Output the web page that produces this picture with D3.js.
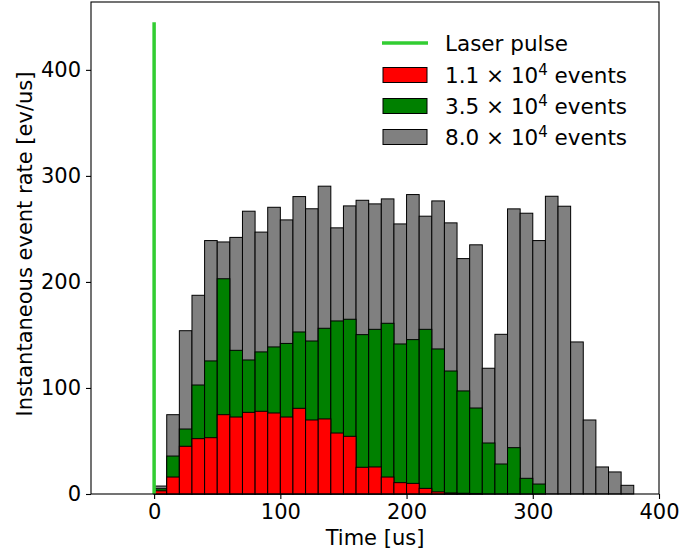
<!DOCTYPE html>
<html>
<head>
<meta charset="utf-8">
<script src="https://cdn.jsdelivr.net/npm/d3@7"></script>
<style>
  html, body { margin: 0; padding: 0; background: #fff; }
  svg { display: block; font-family: "DejaVu Sans", sans-serif; }
</style>
</head>
<body>
<svg id="chart" width="680" height="554"></svg>
<script>
// Histogram bins: left edges in microseconds, 10 us wide
const binWidth = 10;
const binStarts = d3.range(0, 380, binWidth);

// Instantaneous event rate per bin [ev/us] for each dataset
const rate80k = [7.5, 74.8, 154, 187.4, 239, 237.7, 242, 266.7, 247, 270.4,
  258.5, 280.5, 269, 290.3, 251, 271.7, 277, 273.6, 278.3, 254.7,
  282.4, 262, 276.4, 255.7, 222, 235, 118.6, 150.6, 268.9, 264.8,
  239, 280.8, 271.4, 143.4, 69.8, 25.5, 20.8, 8.2];
const rate35k = [5, 35.8, 61.3, 102.8, 125.5, 203, 135.5, 126.4, 134, 138.7,
  142, 152.8, 144.3, 156.3, 163.2, 164.8, 150.3, 155.3, 161, 141.5,
  145.6, 155.3, 136.8, 116, 97.2, 81.1, 48.1, 28.3, 43.7, 14.8,
  9.4, 0, 0, 0, 0, 0, 0, 0];
const rate11k = [3, 16, 45, 52.2, 53.1, 74.8, 72.6, 77, 78, 76.4,
  72.6, 80.8, 69.8, 70.8, 57.5, 54.4, 25.2, 25.5, 16, 10.7,
  10, 5.3, 2, 1, 0.7, 0.5, 0, 0, 0, 0,
  0, 0, 0, 0, 0, 0, 0, 0];

// Laser pulse marker
const laserTime = 0;
const laserPeak = 445;

const series = [
  { label: "8.0", values: rate80k, color: "#808080" },
  { label: "3.5", values: rate35k, color: "#008000" },
  { label: "1.1", values: rate11k, color: "#ff0000" }
];

const xDomain = [-50, 400];
const yDomain = [0, 464];
const xTicks = [0, 100, 200, 300, 400];
const yTicks = [0, 100, 200, 300, 400];

const W = 680, H = 554;
const margin = { top: 2, right: 21, bottom: 60, left: 91 };
const iw = W - margin.left - margin.right;
const ih = H - margin.top - margin.bottom;

const svg = d3.select("#chart");
const g = svg.append("g").attr("transform", `translate(${margin.left},${margin.top})`);

const x = d3.scaleLinear().domain(xDomain).range([0, iw]);
const y = d3.scaleLinear().domain(yDomain).range([ih, 0]);

// Bars: largest dataset underneath, smaller ones drawn over it
series.forEach(s => {
  const bins = binStarts.map((t, i) => ({ t, v: s.values[i] })).filter(d => d.v > 0);
  g.append("g").selectAll("rect").data(bins).join("rect")
    .attr("x", d => x(d.t))
    .attr("width", d => x(d.t + binWidth) - x(d.t))
    .attr("y", d => y(d.v))
    .attr("height", d => y(0) - y(d.v))
    .attr("fill", s.color)
    .attr("stroke", "#000")
    .attr("stroke-width", 1);
});

// Laser pulse line
g.append("line")
  .attr("x1", x(laserTime)).attr("x2", x(laserTime))
  .attr("y1", y(0)).attr("y2", y(laserPeak))
  .attr("stroke", "#32cd32").attr("stroke-width", 3.5);

// Frame
g.append("rect").attr("x", 0).attr("y", 0).attr("width", iw).attr("height", ih)
  .attr("fill", "none").attr("stroke", "#000").attr("stroke-width", 1.1);

const fontSize = 21;
const legendFont = 21.5;

// Axes
const xAxis = g.append("g").attr("transform", `translate(0,${ih})`)
  .call(d3.axisBottom(x).tickValues(xTicks).tickSize(5).tickPadding(5).tickFormat(d3.format("d")));
const yAxis = g.append("g")
  .call(d3.axisLeft(y).tickValues(yTicks).tickSize(5).tickPadding(5).tickFormat(d3.format("d")));
[xAxis, yAxis].forEach(a => {
  a.select(".domain").remove();
  a.selectAll(".tick line").attr("stroke", "#000").attr("stroke-width", 1.1);
  a.selectAll(".tick text").attr("fill", "#000")
    .style("font-family", "DejaVu Sans").style("font-size", fontSize + "px");
});

// Axis titles
svg.append("text")
  .attr("x", margin.left + iw / 2).attr("y", 545)
  .attr("text-anchor", "middle").style("font-size", fontSize + "px")
  .text("Time [us]");
svg.append("text")
  .attr("transform", `translate(32,${margin.top + ih / 2 - 4}) rotate(-90)`)
  .attr("text-anchor", "middle").style("font-size", fontSize + "px")
  .text("Instantaneous event rate [ev/us]");

// Legend
const legend = svg.append("g");
const rowY = [43, 75, 106, 137];
legend.append("line")
  .attr("x1", 382).attr("x2", 428).attr("y1", rowY[0]).attr("y2", rowY[0])
  .attr("stroke", "#32cd32").attr("stroke-width", 3.5);
legend.append("text").attr("x", 445).attr("y", rowY[0] + 8)
  .style("font-size", legendFont + "px").text("Laser pulse");

const legendSeries = [series[2], series[1], series[0]];
legendSeries.forEach((s, i) => {
  const cy = rowY[i + 1];
  legend.append("rect")
    .attr("x", 383).attr("y", cy - 7.5).attr("width", 44).attr("height", 15)
    .attr("fill", s.color).attr("stroke", "#000").attr("stroke-width", 1);
  const t = legend.append("text").attr("x", 445).attr("y", cy + 8)
    .style("font-size", legendFont + "px");
  t.append("tspan").text(`${s.label} \u00d7 10`);
  t.append("tspan").attr("dy", -8).style("font-size", "15px").text("4");
  t.append("tspan").attr("dy", 8).text(" events");
});
</script>
</body>
</html>
